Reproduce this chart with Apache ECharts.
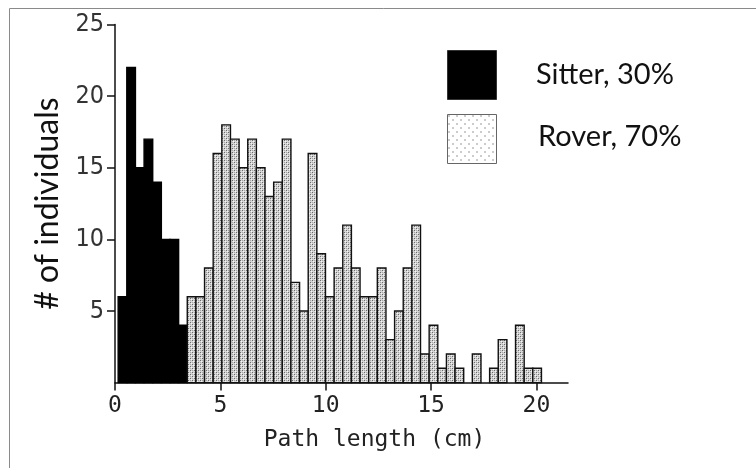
<!DOCTYPE html>
<html>
<head>
<meta charset="utf-8">
<script src="https://cdn.jsdelivr.net/npm/echarts@6/dist/echarts.min.js"></script>
<style>html,body{margin:0;padding:0;background:#fff}#chart{width:756px;height:468px}</style>
</head>
<body>
<div id="chart"></div>
<script>
// ---- data ----
const binStart = 0.15;      // left edge of first bin (cm)
const binWidth = 0.41;      // bin width (cm)
const sitterCounts = [6, 22, 15, 17, 14, 10, 10, 4];
const roverCounts = [6, 6, 8, 16, 18, 17, 15, 17, 15, 13, 14, 17, 7, 5, 16, 9, 6, 8, 11, 8,
                     6, 6, 8, 3, 5, 8, 11, 2, 4, 1, 2, 1, 0, 2, 0, 1, 3, 0, 4, 1, 1];
const xTicks = [0, 5, 10, 15, 20];
const yTicks = [5, 10, 15, 20, 25];
const legendLabels = ['Sitter, 30%', 'Rover, 70%'];
const xTitle = 'Path length (cm)';
const yTitle = '# of individuals';

// ---- build bins ----
function bins(counts, offset) {
  const out = [];
  counts.forEach((c, i) => {
    if (c > 0) {
      const s = binStart + (offset + i) * binWidth;
      out.push([s, s + binWidth, c]);
    }
  });
  return out;
}
const sitterData = bins(sitterCounts, 0);
const roverData = bins(roverCounts, sitterCounts.length);

// ---- patterns ----
function barPattern() {
  const c = document.createElement('canvas');
  c.width = 4; c.height = 4;
  const g = c.getContext('2d');
  g.fillStyle = '#d6d6d6'; g.fillRect(0, 0, 4, 4);
  g.fillStyle = '#f4f4f4';
  g.fillRect(1, 1, 1, 1); g.fillRect(3, 3, 1, 1);
  g.fillStyle = '#6a6a6a';
  g.fillRect(0, 0, 1, 1); g.fillRect(2, 2, 1, 1);
  g.fillStyle = '#a8a8a8';
  g.fillRect(2, 0, 1, 1); g.fillRect(0, 2, 1, 1);
  return c;
}
function legendPattern() {
  const c = document.createElement('canvas');
  c.width = 8; c.height = 8;
  const g = c.getContext('2d');
  g.fillStyle = '#ffffff'; g.fillRect(0, 0, 8, 8);
  g.fillStyle = '#333';
  g.fillRect(1, 1, 1, 1); g.fillRect(5, 5, 1, 1);
  return c;
}
const roverFill = { image: barPattern(), repeat: 'repeat' };

function makeRender(fill, stroke) {
  return function (params, api) {
    const p0 = api.coord([api.value(0), api.value(2)]);
    const p1 = api.coord([api.value(1), 0]);
    return {
      type: 'rect',
      shape: { x: p0[0], y: p0[1], width: p1[0] - p0[0], height: p1[1] - p0[1] },
      style: { fill: fill, stroke: stroke, lineWidth: 1.4 }
    };
  };
}

const chart = echarts.init(document.getElementById('chart'), null, { renderer: 'canvas' });
const option = {
  backgroundColor: '#fff',
  animation: false,
  grid: { left: 115, right: 188, top: 24.6, bottom: 85.4 },
  xAxis: {
    type: 'value', min: 0, max: 21.5, interval: 5,
    axisLine: { show: true, lineStyle: { color: '#111', width: 1.5 } },
    axisTick: { show: true, length: 8, lineStyle: { color: '#111', width: 1.5 }, customValues: xTicks },
    axisLabel: { show: true, customValues: xTicks, margin: 12, color: '#222', fontFamily: 'DejaVu Sans Mono', fontSize: 23 },
    splitLine: { show: false },
    name: xTitle, nameLocation: 'middle', nameGap: 46,
    nameTextStyle: { fontFamily: 'DejaVu Sans Mono', fontSize: 23, color: '#222', padding: [0, 0, 0, 66] }
  },
  yAxis: {
    type: 'value', min: 0, max: 25, interval: 5,
    axisLine: { show: true, lineStyle: { color: '#111', width: 1.5 } },
    axisTick: { show: true, length: 8, lineStyle: { color: '#111', width: 1.5 }, customValues: yTicks },
    axisLabel: { show: true, customValues: yTicks, margin: 11, color: '#333',
      fontFamily: "'Liberation Sans Narrow', 'DejaVu Sans Condensed', sans-serif", fontSize: 25 },
    splitLine: { show: false },
    name: yTitle, nameLocation: 'middle', nameRotate: 90, nameGap: 51,
    nameTextStyle: { fontFamily: 'Lato', fontSize: 32, color: '#111' }
  },
  series: [
    { name: legendLabels[0], type: 'custom', renderItem: makeRender('#000', '#000'), data: sitterData,
      encode: { x: [0, 1], y: 2 } },
    { name: legendLabels[1], type: 'custom', renderItem: makeRender(roverFill, '#111'), data: roverData,
      encode: { x: [0, 1], y: 2 } }
  ],
  graphic: [
    { type: 'rect', left: 7, top: 6, shape: { width: 800, height: 500 }, silent: true,
      style: { fill: 'none', stroke: '#8a8a8a', lineWidth: 1 }, z: -1 },
    { type: 'rect', left: 447, top: 50, shape: { width: 49, height: 49 },
      style: { fill: '#000', stroke: '#333', lineWidth: 1 } },
    { type: 'text', left: 536, top: 60, style: { text: legendLabels[0], fontFamily: 'Lato', fontSize: 29, fill: '#111' } },
    { type: 'rect', left: 447, top: 114, shape: { width: 49, height: 49 },
      style: { fill: { image: legendPattern(), repeat: 'repeat' }, stroke: '#666', lineWidth: 1 } },
    { type: 'text', left: 538, top: 122, style: { text: legendLabels[1], fontFamily: 'Lato', fontSize: 29, fill: '#111' } }
  ]
};
chart.setOption(option);
</script>
</body>
</html>
